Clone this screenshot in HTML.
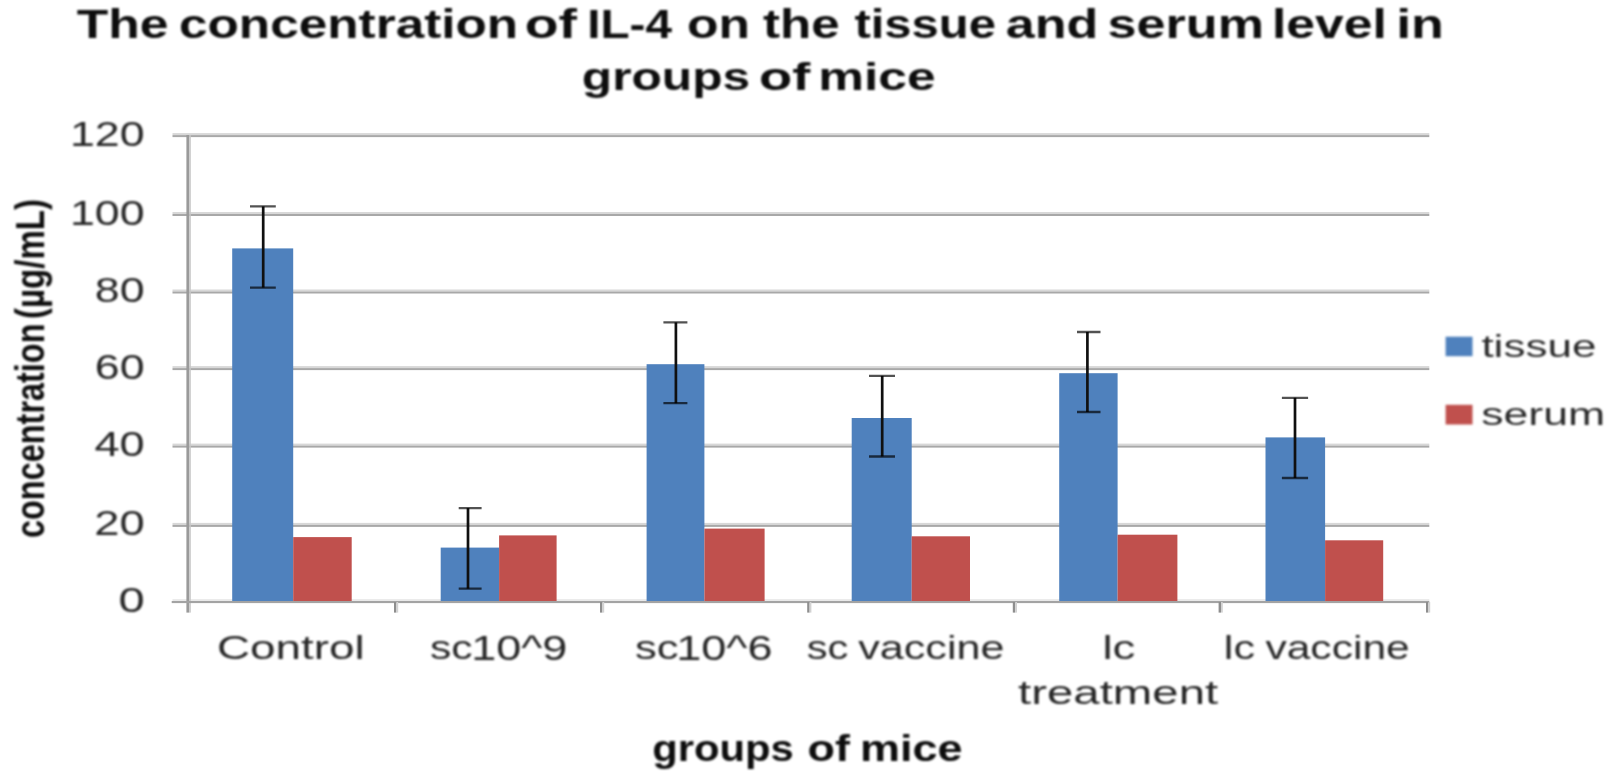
<!DOCTYPE html>
<html lang="en">
<head>
<meta charset="utf-8">
<title>The concentration of IL-4 on the tissue and serum level in groups of mice</title>
<style>
html,body{margin:0;padding:0;background:#ffffff;}
body{width:1611px;height:775px;overflow:hidden;}
svg{display:block;}
</style>
</head>
<body>
<svg width="1611" height="775" viewBox="0 0 1611 775" font-family='"Liberation Sans", sans-serif'>
<rect x="0" y="0" width="1611" height="775" fill="#ffffff"/>
<defs><filter id="soft" x="0" y="0" width="1611" height="775" filterUnits="userSpaceOnUse" color-interpolation-filters="sRGB"><feGaussianBlur stdDeviation="0.9"/></filter><filter id="soft2" x="0" y="0" width="1611" height="775" filterUnits="userSpaceOnUse" color-interpolation-filters="sRGB"><feGaussianBlur stdDeviation="0.45"/></filter></defs>
<g id="shapes" filter="url(#soft2)">
<g id="grid">
<rect x="172.5" y="599.1" width="1256.8" height="1.9" fill="#e9e9e9"/>
<rect x="172.5" y="133.1" width="1256.8" height="2" fill="#d8d8d8"/>
<rect x="172.5" y="135.1" width="1256.8" height="2" fill="#a8a8a8"/>
<rect x="172.5" y="212.0" width="1256.8" height="2" fill="#d8d8d8"/>
<rect x="172.5" y="214.0" width="1256.8" height="2" fill="#a8a8a8"/>
<rect x="172.5" y="289.5" width="1256.8" height="2" fill="#d8d8d8"/>
<rect x="172.5" y="291.5" width="1256.8" height="2" fill="#a8a8a8"/>
<rect x="172.5" y="366.1" width="1256.8" height="2" fill="#d8d8d8"/>
<rect x="172.5" y="368.1" width="1256.8" height="2" fill="#a8a8a8"/>
<rect x="172.5" y="443.6" width="1256.8" height="2" fill="#d8d8d8"/>
<rect x="172.5" y="445.6" width="1256.8" height="2" fill="#a8a8a8"/>
<rect x="172.5" y="522.9" width="1256.8" height="2" fill="#d8d8d8"/>
<rect x="172.5" y="524.9" width="1256.8" height="2" fill="#a8a8a8"/>
</g>
<g id="bars">
<rect x="232.2" y="248.4" width="61.0" height="352.6" fill="#4f81bd"/>
<rect x="293.2" y="537.1" width="58.5" height="63.9" fill="#c0504d"/>
<rect x="440.7" y="547.6" width="58.4" height="53.4" fill="#4f81bd"/>
<rect x="499.1" y="535.4" width="57.5" height="65.6" fill="#c0504d"/>
<rect x="646.6" y="364.2" width="57.8" height="236.8" fill="#4f81bd"/>
<rect x="704.4" y="528.6" width="60.2" height="72.4" fill="#c0504d"/>
<rect x="851.7" y="418.0" width="60.0" height="183.0" fill="#4f81bd"/>
<rect x="911.7" y="536.3" width="58.3" height="64.7" fill="#c0504d"/>
<rect x="1059.2" y="373.2" width="58.4" height="227.8" fill="#4f81bd"/>
<rect x="1117.6" y="534.7" width="59.8" height="66.3" fill="#c0504d"/>
<rect x="1265.5" y="437.4" width="59.6" height="163.6" fill="#4f81bd"/>
<rect x="1325.1" y="540.3" width="58.1" height="60.7" fill="#c0504d"/>
</g>
<g id="axes">
<rect x="186.4" y="135" width="2.9" height="477.6" fill="#9a9a9a"/>
<rect x="189.3" y="135" width="1.5" height="477.6" fill="#c8c8c8"/>
<rect x="171.7" y="601.0" width="1257.6" height="2.1" fill="#a3a3a3"/>
<rect x="394.0" y="602.0" width="2.4" height="10.6" fill="#8e8e8e"/>
<rect x="396.4" y="602.0" width="1.8" height="10.6" fill="#d2d2d2"/>
<rect x="600.0" y="602.0" width="2.4" height="10.6" fill="#8e8e8e"/>
<rect x="602.4" y="602.0" width="1.8" height="10.6" fill="#d2d2d2"/>
<rect x="807.2" y="602.0" width="2.4" height="10.6" fill="#8e8e8e"/>
<rect x="809.6" y="602.0" width="1.8" height="10.6" fill="#d2d2d2"/>
<rect x="1012.8" y="602.0" width="2.4" height="10.6" fill="#8e8e8e"/>
<rect x="1015.2" y="602.0" width="1.8" height="10.6" fill="#d2d2d2"/>
<rect x="1218.6" y="602.0" width="2.4" height="10.6" fill="#8e8e8e"/>
<rect x="1221.0" y="602.0" width="1.8" height="10.6" fill="#d2d2d2"/>
<rect x="1426.0" y="602.0" width="2.4" height="10.6" fill="#8e8e8e"/>
<rect x="1428.4" y="602.0" width="1.8" height="10.6" fill="#d2d2d2"/>
</g>
</g>
<g id="labels" filter="url(#soft)">
<g id="title" fill="#0d0d0d">
<text x="76.80" y="37.6" font-size="40.5" font-weight="700" textLength="91.80" lengthAdjust="spacingAndGlyphs">The</text>
<text x="179.00" y="37.6" font-size="40.5" font-weight="700" textLength="339.20" lengthAdjust="spacingAndGlyphs">concentration</text>
<text x="524.80" y="37.6" font-size="40.5" font-weight="700" textLength="52.20" lengthAdjust="spacingAndGlyphs">of</text>
<text x="587.20" y="37.6" font-size="40.5" font-weight="700" textLength="84.80" lengthAdjust="spacingAndGlyphs">IL-4</text>
<text x="687.00" y="37.6" font-size="40.5" font-weight="700" textLength="63.00" lengthAdjust="spacingAndGlyphs">on</text>
<text x="763.00" y="37.6" font-size="40.5" font-weight="700" textLength="76.60" lengthAdjust="spacingAndGlyphs">the</text>
<text x="854.40" y="37.6" font-size="40.5" font-weight="700" textLength="141.60" lengthAdjust="spacingAndGlyphs">tissue</text>
<text x="1005.80" y="37.6" font-size="40.5" font-weight="700" textLength="92.60" lengthAdjust="spacingAndGlyphs">and</text>
<text x="1107.60" y="37.6" font-size="40.5" font-weight="700" textLength="156.40" lengthAdjust="spacingAndGlyphs">serum</text>
<text x="1272.00" y="37.6" font-size="40.5" font-weight="700" textLength="114.80" lengthAdjust="spacingAndGlyphs">level</text>
<text x="1396.20" y="37.6" font-size="40.5" font-weight="700" textLength="47.80" lengthAdjust="spacingAndGlyphs">in</text>
<text x="581.80" y="90.2" font-size="38.8" font-weight="700" textLength="168.40" lengthAdjust="spacingAndGlyphs">groups</text>
<text x="759.00" y="90.2" font-size="38.8" font-weight="700" textLength="51.20" lengthAdjust="spacingAndGlyphs">of</text>
<text x="818.20" y="90.2" font-size="38.8" font-weight="700" textLength="117.40" lengthAdjust="spacingAndGlyphs">mice</text>
</g>
<g id="ylab" fill="#262626">
<text x="70.00" y="145.9" font-size="35.6" textLength="74.60" lengthAdjust="spacingAndGlyphs">120</text>
<text x="70.00" y="225.3" font-size="35.6" textLength="74.60" lengthAdjust="spacingAndGlyphs">100</text>
<text x="94.80" y="302.3" font-size="35.6" textLength="49.80" lengthAdjust="spacingAndGlyphs">80</text>
<text x="94.80" y="378.6" font-size="35.6" textLength="49.80" lengthAdjust="spacingAndGlyphs">60</text>
<text x="94.40" y="455.9" font-size="35.6" textLength="50.20" lengthAdjust="spacingAndGlyphs">40</text>
<text x="94.20" y="535.3" font-size="35.6" textLength="50.40" lengthAdjust="spacingAndGlyphs">20</text>
<text x="118.40" y="612.0" font-size="35.6" textLength="26.20" lengthAdjust="spacingAndGlyphs">0</text>
</g>
<g id="xlab" fill="#262626">
<text x="217.00" y="659.2" font-size="33.2" textLength="147.60" lengthAdjust="spacingAndGlyphs">Control</text>
<text x="430.00" y="659.4" font-size="33.2" textLength="42.60" lengthAdjust="spacingAndGlyphs">sc</text>
<text x="471.20" y="659.6" font-size="35.6" textLength="96.20" lengthAdjust="spacingAndGlyphs">10^9</text>
<text x="635.00" y="659.4" font-size="33.2" textLength="43.60" lengthAdjust="spacingAndGlyphs">sc</text>
<text x="676.20" y="659.6" font-size="35.6" textLength="96.40" lengthAdjust="spacingAndGlyphs">10^6</text>
<text x="806.80" y="659.2" font-size="33.2" textLength="41.60" lengthAdjust="spacingAndGlyphs">sc</text>
<text x="858.20" y="659.2" font-size="33.2" textLength="146.40" lengthAdjust="spacingAndGlyphs">vaccine</text>
<text x="1102.40" y="659.2" font-size="33.2" textLength="33.00" lengthAdjust="spacingAndGlyphs">lc</text>
<text x="1018.00" y="703.8" font-size="33.2" textLength="200.20" lengthAdjust="spacingAndGlyphs">treatment</text>
<text x="1223.80" y="659.2" font-size="33.2" textLength="31.20" lengthAdjust="spacingAndGlyphs">lc</text>
<text x="1265.40" y="659.2" font-size="33.2" textLength="144.40" lengthAdjust="spacingAndGlyphs">vaccine</text>
</g>
<g id="atitle" fill="#0d0d0d">
<text x="652.20" y="761.2" font-size="36.6" font-weight="700" textLength="141.60" lengthAdjust="spacingAndGlyphs">groups</text>
<text x="807.60" y="761.2" font-size="36.6" font-weight="700" textLength="42.40" lengthAdjust="spacingAndGlyphs">of</text>
<text x="860.00" y="761.2" font-size="36.6" font-weight="700" textLength="102.60" lengthAdjust="spacingAndGlyphs">mice</text>
<g transform="translate(44.1 537) rotate(-90)">
<text x="-1.00" y="0.0" font-size="41" font-weight="700" textLength="214.50" lengthAdjust="spacingAndGlyphs">concentration</text>
<text x="218.00" y="0.0" font-size="41" font-weight="700" textLength="120.00" lengthAdjust="spacingAndGlyphs">(µg/mL)</text>
</g>
</g>
<g id="legend">
<rect x="1445.6" y="336.7" width="26.9" height="19.5" fill="#4f81bd"/>
<rect x="1445.6" y="404.8" width="26.9" height="19.7" fill="#c0504d"/>
<g fill="#2a2a2a">
<text x="1481.40" y="356.6" font-size="31" textLength="115.00" lengthAdjust="spacingAndGlyphs">tissue</text>
<text x="1481.20" y="424.7" font-size="31" textLength="124.00" lengthAdjust="spacingAndGlyphs">serum</text>
</g></g>
</g>
<g id="err" fill="none" filter="url(#soft2)">
<path d="M263.2 206.4V287.6" stroke="#101010" stroke-width="2.7"/>
<path d="M250.0 206.4H275.8M250.0 287.6H275.8" stroke="#000000" stroke-opacity="0.68" stroke-width="2.3"/>
<path d="M468.0 508.1V588.7" stroke="#101010" stroke-width="2.7"/>
<path d="M458.7 508.1H481.6M458.7 588.7H481.6" stroke="#000000" stroke-opacity="0.68" stroke-width="2.3"/>
<path d="M675.9 322.4V403.2" stroke="#101010" stroke-width="2.7"/>
<path d="M663.4 322.4H687.4M663.4 403.2H687.4" stroke="#000000" stroke-opacity="0.68" stroke-width="2.3"/>
<path d="M882.2 375.9V456.5" stroke="#101010" stroke-width="2.7"/>
<path d="M869.0 375.9H895.0M869.0 456.5H895.0" stroke="#000000" stroke-opacity="0.68" stroke-width="2.3"/>
<path d="M1087.4 332.0V412.0" stroke="#101010" stroke-width="2.7"/>
<path d="M1077.0 332.0H1100.5M1077.0 412.0H1100.5" stroke="#000000" stroke-opacity="0.68" stroke-width="2.3"/>
<path d="M1295.0 397.8V478.0" stroke="#101010" stroke-width="2.7"/>
<path d="M1281.9 397.8H1308.1M1281.9 478.0H1308.1" stroke="#000000" stroke-opacity="0.68" stroke-width="2.3"/>
</g>
</svg>
</body>
</html>
